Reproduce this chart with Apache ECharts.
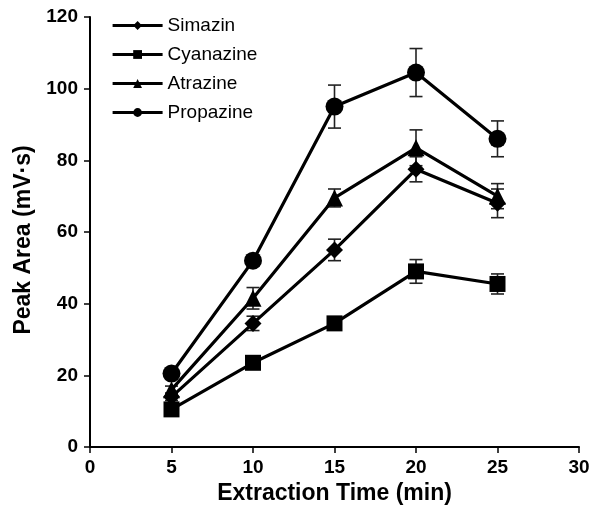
<!DOCTYPE html>
<html>
<head>
<meta charset="utf-8">
<script src="https://cdn.jsdelivr.net/npm/echarts@6/dist/echarts.min.js"></script>
<style>
  html, body { margin: 0; padding: 0; background: #fff; }
  #main { width: 593px; height: 506px; }
</style>
</head>
<body>
<div id="main"></div>
<script>
// extraction times (min)
const times = [5, 10, 15, 20, 25];

// peak areas
const simazin = [14, 34.5, 55, 77.5, 68];
const cyanazine = [10.5, 23.5, 34.5, 49, 45.5];
const atrazine = [16, 41.5, 69.5, 83.5, 70];
const propazine = [20.5, 52, 95, 104.5, 86];

// error bar half-widths
const simazinErr = [1, 2, 3, 3.5, 4];
const cyanazineErr = [0.5, 1, 1, 3.3, 2.8];
const atrazineErr = [1, 3, 2.5, 5, 3.5];
const propazineErr = [1, 1.5, 6, 6.7, 5];

const names = ['Simazin', 'Cyanazine', 'Atrazine', 'Propazine'];
const symbols = ['diamond', 'rect', 'triangle', 'circle'];
const symbolSizes = [17, 16, 17, 18];

const allVals = [simazin, cyanazine, atrazine, propazine];
const allErr = [simazinErr, cyanazineErr, atrazineErr, propazineErr];

const font = '"Liberation Sans", Arial, sans-serif';

let series = [];

// error bars first so markers sit on top
for (let s = 0; s < 4; s++) {
    let errData = [];
    for (let i = 0; i < times.length; i++) {
        errData.push([times[i], allVals[s][i] - allErr[s][i], allVals[s][i] + allErr[s][i]]);
    }
    series.push({
        type: 'custom',
        name: names[s] + ' err',
        z: 1,
        silent: true,
        data: errData,
        renderItem: function(params, api) {
            let x = api.value(0);
            let lo = api.coord([x, api.value(1)]);
            let hi = api.coord([x, api.value(2)]);
            let half = 6.5;
            let style = { stroke: '#222', lineWidth: 1.6 };
            return {
                type: 'group',
                children: [
                    { type: 'line', shape: { x1: lo[0], y1: lo[1], x2: hi[0], y2: hi[1] }, style: style },
                    { type: 'line', shape: { x1: hi[0] - half, y1: hi[1], x2: hi[0] + half, y2: hi[1] }, style: style },
                    { type: 'line', shape: { x1: lo[0] - half, y1: lo[1], x2: lo[0] + half, y2: lo[1] }, style: style }
                ]
            };
        }
    });
}

for (let s = 0; s < 4; s++) {
    series.push({
        type: 'line',
        name: names[s],
        z: 3,
        data: times.map((t, i) => [t, allVals[s][i]]),
        symbol: symbols[s],
        symbolSize: symbolSizes[s],
        showAllSymbol: true,
        lineStyle: { color: '#000', width: 3.2 },
        itemStyle: { color: '#000', borderWidth: 0 }
    });
}

let myChart = echarts.init(document.getElementById('main'));
myChart.setOption({
    animation: false,
    backgroundColor: '#fff',
    grid: { left: 90, right: 14, top: 17, bottom: 59, outerBoundsMode: 'none', containLabel: false },
    legend: {
        data: names,
        orient: 'vertical',
        left: 106,
        top: 11,
        itemWidth: 50,
        itemHeight: 11,
        itemGap: 10,
        lineStyle: { width: 3.2 },
        textStyle: { fontFamily: font, fontSize: 19, color: '#000' }
    },
    xAxis: {
        type: 'value',
        min: 0,
        max: 30,
        interval: 5,
        name: 'Extraction Time (min)',
        nameLocation: 'middle',
        nameGap: 33,
        nameTextStyle: { fontFamily: font, fontSize: 23, fontWeight: 'bold', color: '#000' },
        axisLine: { lineStyle: { color: '#000', width: 2 } },
        axisTick: { show: true, length: 6, lineStyle: { color: '#000', width: 1.5 } },
        axisLabel: { fontFamily: font, fontSize: 19, fontWeight: 'bold', color: '#000', margin: 11 },
        splitLine: { show: false }
    },
    yAxis: {
        type: 'value',
        min: 0,
        max: 120,
        interval: 20,
        name: 'Peak Area (mV·s)',
        nameLocation: 'middle',
        nameGap: 51,
        nameTextStyle: { fontFamily: font, fontSize: 23, fontWeight: 'bold', color: '#000', padding: [0, 16, 0, 0] },
        axisLine: { show: true, lineStyle: { color: '#000', width: 2 } },
        axisTick: { show: true, length: 6, lineStyle: { color: '#000', width: 1.5 } },
        axisLabel: { fontFamily: font, fontSize: 19, fontWeight: 'bold', color: '#000', margin: 12 },
        splitLine: { show: false }
    },
    series: series
});
</script>
</body>
</html>
